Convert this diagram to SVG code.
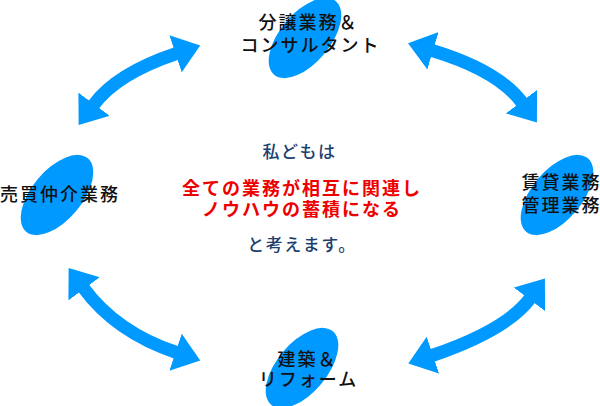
<svg xmlns="http://www.w3.org/2000/svg" width="600" height="406" viewBox="0 0 600 406">
<style>
.blob{fill:#0099ff}
.shaft{fill:none;stroke:#0099ff;stroke-width:13}
.lbl{font-family:"Noto Sans CJK JP","Noto Sans",sans-serif;font-size:18px;letter-spacing:2px;fill:#111;font-weight:500;text-anchor:middle}
.msg{font-family:"Noto Sans CJK JP","Noto Sans",sans-serif;font-size:17px;letter-spacing:1.5px;fill:#1c3f6e;font-weight:500;text-anchor:middle}
.red{font-family:"Noto Sans CJK JP","Noto Sans",sans-serif;font-size:18px;letter-spacing:2px;fill:#ee0000;font-weight:bold;text-anchor:middle}
</style>
<defs>
<marker id="head" viewBox="0 0 26 39" markerUnits="userSpaceOnUse" markerWidth="26" markerHeight="39" refX="1" refY="19.5" orient="auto-start-reverse">
<path d="M0,0 L26,19.5 L0,39 Z" fill="#0099ff"/>
</marker>
</defs>
<g id="connectors">
<path class="shaft" d="M93.5,105 Q116.8,73.4 176.5,53.5" marker-start="url(#head)" marker-end="url(#head)"/>
<path class="shaft" d="M432,50.5 Q498,70.3 522,102.5" marker-start="url(#head)" marker-end="url(#head)"/>
<path class="shaft" d="M83.5,288 Q116.3,332.4 176.5,352.5" marker-start="url(#head)" marker-end="url(#head)"/>
<path class="shaft" d="M432,355.5 Q506.4,330.2 530,298.5" marker-start="url(#head)" marker-end="url(#head)"/>
</g>
<g id="node-top">
<ellipse class="blob" cx="0" cy="0" rx="48" ry="25" transform="translate(305,38) rotate(-50)"/>
<text class="lbl" x="308.5" y="28.5">分譲業務＆</text>
<text class="lbl" x="310.5" y="51.5">コンサルタント</text>
</g>
<g id="node-left">
<ellipse class="blob" cx="0" cy="0" rx="48" ry="25" transform="translate(57,195) rotate(-50)"/>
<text class="lbl" x="60" y="200.5">売買仲介業務</text>
</g>
<g id="node-right">
<ellipse class="blob" cx="0" cy="0" rx="48" ry="25" transform="translate(557,195) rotate(-50)"/>
<text class="lbl" x="561.5" y="188.5">賃貸業務</text>
<text class="lbl" x="561.5" y="211.5">管理業務</text>
</g>
<g id="node-bottom">
<ellipse class="blob" cx="0" cy="0" rx="48" ry="25" transform="translate(302,368) rotate(-50)"/>
<text class="lbl" x="307.5" y="365.5">建築＆</text>
<text class="lbl" x="308.5" y="385.5">リフォーム</text>
</g>
<g id="center">
<text class="msg" x="299.5" y="157.5">私どもは</text>
<text class="red" x="302" y="194.5">全ての業務が相互に関連し</text>
<text class="red" x="302" y="216">ノウハウの蓄積になる</text>
<text class="msg" x="302" y="250.5">と考えます。</text>
</g>
</svg>
